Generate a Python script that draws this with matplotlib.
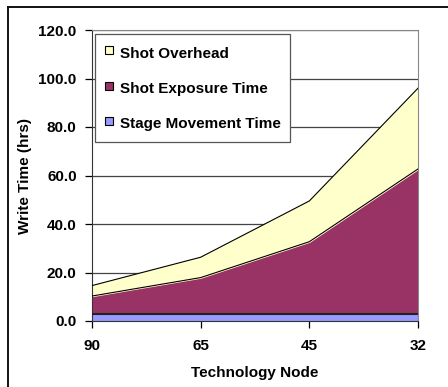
import numpy as np
import matplotlib.pyplot as plt
from matplotlib.lines import Line2D

# Write time breakdown per technology node
nodes = ["90", "65", "45", "32"]
stage_movement = [3.0, 3.0, 3.0, 3.0]
shot_exposure = [7.3, 14.9, 29.7, 59.7]
shot_overhead = [4.3, 8.4, 16.8, 33.3]

plt.rcParams['font.family'] = ['Liberation Sans', 'DejaVu Sans']
plt.rcParams['font.weight'] = 'bold'

fig = plt.figure(figsize=(4.48, 3.87), dpi=100)
ax = fig.add_axes([92 / 448, 66 / 387, 326 / 448, 291 / 387])

# chart frame edges (left and top only; the rest runs off the canvas)
fig.lines.append(Line2D([7.5 / 448, 7.5 / 448], [0, 380.5 / 387],
                        transform=fig.transFigure, color='#111111',
                        linewidth=1.4))
fig.lines.append(Line2D([7.5 / 448, 1], [380.5 / 387, 380.5 / 387],
                        transform=fig.transFigure, color='#111111',
                        linewidth=1.4))

x = np.arange(len(nodes))
s1 = np.array(stage_movement)
s2 = s1 + np.array(shot_exposure)
s3 = s2 + np.array(shot_overhead)

ax.fill_between(x, 0, s1, color='#9999FF', zorder=2)
ax.fill_between(x, s1, s2, color='#993366', zorder=2)
ax.fill_between(x, s2, s3, color='#FFFFCC', zorder=2)
ax.plot(x, s1, color='#222222', linewidth=1.5, zorder=3)
ax.plot(x, s2, color='black', linewidth=0.8, zorder=3)
ax.plot(x, s3, color='black', linewidth=0.8, zorder=3)

ax.set_xlim(0, 3)
ax.set_ylim(0, 120)
ax.set_yticks(np.arange(0, 121, 20))
ax.set_yticklabels([f"{v:.1f}" for v in np.arange(0, 121, 20)])
ax.set_xticks(x)
ax.set_xticklabels(nodes)
ax.grid(axis='y', color='#444444', linewidth=0.9, zorder=1)
ax.set_axisbelow(True)

for side in ['top', 'right']:
    ax.spines[side].set_color('#888888')
ax.spines['left'].set_color('#333333')
ax.spines['bottom'].set_color('#333333')
ax.tick_params(axis='both', direction='out', length=5, width=0.9,
               labelsize=11, colors='black')
ax.tick_params(axis='x', pad=8)
ax.tick_params(axis='y', pad=6)

ax.set_ylabel("Write Time (hrs)", fontsize=11, fontweight='bold', labelpad=5)
ax.set_xlabel("Technology Node", fontsize=11, fontweight='bold', labelpad=9)

handles = [Line2D([], [], linestyle='none', marker='s', markersize=6,
                  markerfacecolor=c, markeredgecolor='black',
                  markeredgewidth=0.8)
           for c in ['#FFFFCC', '#993366', '#9999FF']]
labels = ["Shot Overhead", "Shot Exposure Time", "Stage Movement Time"]
leg = ax.legend(handles, labels, loc='upper left',
                bbox_to_anchor=(0.009, 0.986), borderaxespad=0,
                fancybox=False, framealpha=1, edgecolor='#555555',
                prop={'size': 11, 'weight': 'bold'},
                handlelength=0.6, handleheight=1.5, handletextpad=0.45,
                labelspacing=1.1, borderpad=0.6)
leg.get_frame().set_linewidth(0.9)
leg.set_zorder(5)

fig.savefig("out.png", dpi=100)
